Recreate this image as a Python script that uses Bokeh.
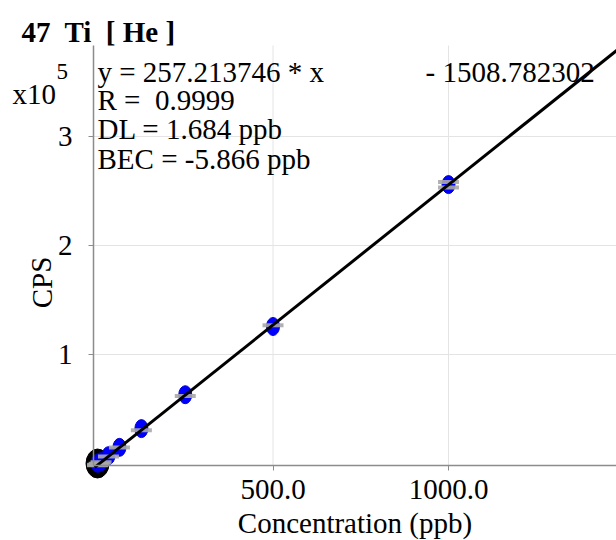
from bokeh.plotting import figure
from bokeh.models import Label, FixedTicker, Range1d
from bokeh.embed import file_html
from bokeh.resources import INLINE

# ---- data ----
conc = [0, 1, 5, 10, 31.25, 62.5, 125, 250, 500, 1000]          # ppb
cps = [300, 400, 900, 1700, 7200, 14800, 32000, 63100, 125700, 255900]
bar_conc = [0, 1, 5, 10, 31.25, 62.5, 125, 250, 500, 1000, 1000]
bar_cps = [-1500, -1200, -200, 1100, 6500, 14600, 30600, 62000, 126800, 258200, 253200]
blank_conc = [0]
blank_cps = [0]
slope = 257.213746
intercept = -1508.782302
fit_x = [-8, 1480]
fit_y = [slope * v + intercept for v in fit_x]

x_ticks = [500, 1000]
x_tick_labels = {500: "500.0", 1000: "1000.0"}
y_ticks = [100000, 200000, 300000]
y_tick_labels = {100000: "1", 200000: "2", 300000: "3"}

# plot-area limits (data units)
x_lo, x_hi = -11.4, 1478.6
y_lo, y_hi = -1835, 383486

NB = "\u00a0"
title_text = "47" + NB + " Ti" + NB + " [ He ]"
info_lines = ["y = 257.213746 * x" + NB * 13 + " - 1508.782302", "R =" + NB + " 0.9999",
              "DL = 1.684 ppb", "BEC = -5.866 ppb"]

FONT = "Liberation Serif"
W, H = 616, 540

p = figure(width=W, height=H, output_backend="svg", toolbar_location=None,
           x_range=Range1d(-276.4, 1478.6), y_range=Range1d(-70642, 424771),
           min_border=0)
p.outline_line_color = None
p.background_fill_color = "white"
p.border_fill_color = "white"
p.grid.visible = False

# axes at fixed positions of the plot area
p.xaxis.fixed_location = y_lo
p.yaxis.fixed_location = x_lo
p.xaxis.bounds = (x_lo, x_hi)
p.yaxis.bounds = (y_lo, y_hi)
p.xaxis.ticker = FixedTicker(ticks=x_ticks)
p.xaxis.major_label_overrides = x_tick_labels
p.yaxis.ticker = FixedTicker(ticks=y_ticks)
p.yaxis.major_label_overrides = y_tick_labels
for ax in (p.xaxis[0], p.yaxis[0]):
    ax.axis_line_color = "#8c8c8c"
    ax.axis_line_width = 1.5
    ax.major_tick_line_color = "#8c8c8c"
    ax.major_tick_out = 5
    ax.major_tick_in = 0
    ax.minor_tick_line_color = None
    ax.major_label_text_font = FONT
    ax.major_label_text_font_size = "29px"
    ax.major_label_text_color = "black"
p.xaxis.major_label_standoff = 9
p.yaxis.major_label_standoff = 16
p.yaxis.major_label_text_baseline = "top"
p.yaxis.major_label_text_line_height = 1.6
p.xaxis.axis_label = "Concentration (ppb)"
p.xaxis.axis_label_text_font = FONT
p.xaxis.axis_label_text_font_size = "29px"
p.xaxis.axis_label_text_font_style = "normal"
p.xaxis.axis_label_text_color = "black"
p.xaxis.axis_label_standoff = 5

# grid lines inside the plot area
p.segment(x0=x_ticks, y0=[y_lo] * len(x_ticks), x1=x_ticks, y1=[y_hi] * len(x_ticks),
          line_color="#e4e4e4", line_width=1)
p.segment(x0=[x_lo] * len(y_ticks), y0=y_ticks, x1=[x_hi] * len(y_ticks), y1=y_ticks,
          line_color="#e4e4e4", line_width=1)

# points
p.ellipse(blank_conc, blank_cps, width=23, height=29, width_units="screen",
          height_units="screen", fill_color="black", line_color="black")
p.ellipse(conc, cps, width=13, height=18, width_units="screen", height_units="screen",
          fill_color="#0000ff", line_color="#0000d0")
p.rect(bar_conc, bar_cps, width=21, height=4, width_units="screen", height_units="screen",
       fill_color="#a8a8a8", fill_alpha=0.9, line_color=None)
p.line(fit_x, fit_y, line_color="black", line_width=3)

# texts (screen units: x from left, y from bottom); baseline correction of 9px
SHIFT = 9
def lab(x, base, text, size, **kw):
    p.add_layout(Label(x=x, y=H - base + SHIFT, x_units="screen", y_units="screen",
                       text=text, text_font=FONT, text_font_size=size,
                       text_color="black", text_baseline="alphabetic", **kw))

lab(21, 40, title_text, "29px", text_font_style="bold")
for t, b in zip(info_lines, [80, 108, 137, 167]):
    lab(97, b, t, "29px")
lab(12, 102, "x10", "29px")
lab(56, 80, "5", "23px")
p.add_layout(Label(x=41, y=H - 282, x_units="screen", y_units="screen", text="CPS",
                   angle=1.5708, text_align="center", text_baseline="alphabetic",
                   text_font=FONT, text_font_size="29px", text_color="black"))

open("out.html", "w").write(file_html(p, INLINE))
